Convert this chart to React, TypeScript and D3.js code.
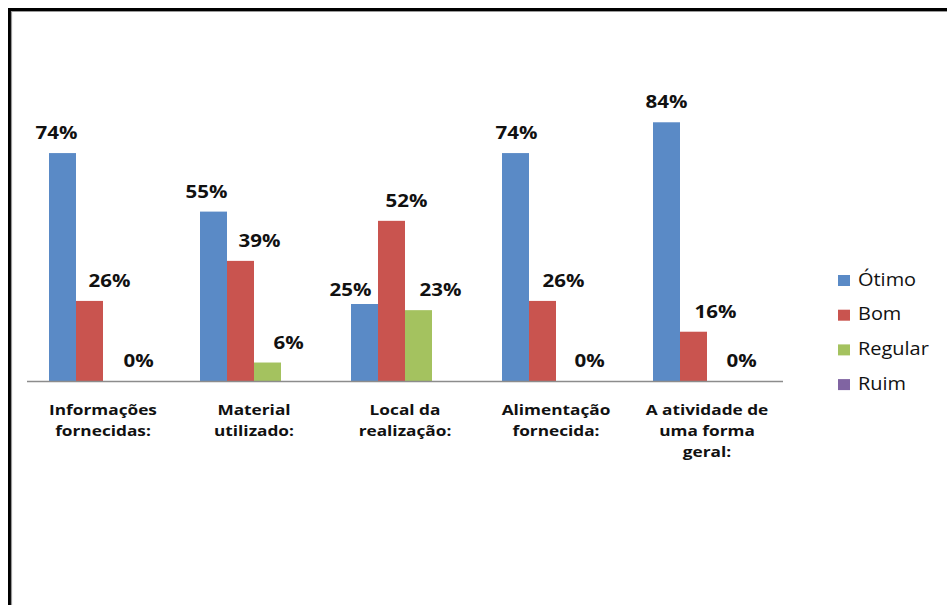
import React from "react";
import * as d3 from "d3";

const categories: string[][] = [
  ["Informações", "fornecidas:"],
  ["Material", "utilizado:"],
  ["Local da", "realização:"],
  ["Alimentação", "fornecida:"],
  ["A atividade de", "uma forma", "geral:"],
];
const series = ["Ótimo", "Bom", "Regular", "Ruim"];
const colors = ["#5A8AC6", "#C9544F", "#A4C25F", "#8064A2"];
const otimo = [74, 55, 25, 74, 84];
const bom = [26, 39, 52, 26, 16];
const regular = [0, 6, 23, 0, 0];
const ruim: (number | null)[] = [null, null, null, null, null];
const values = [otimo, bom, regular, ruim];
// manual label nudges [dx, dy] per series per category (as placed in the original)
const labelNudge: [number, number][][] = [
  [[-6, 0], [-7, 0], [-14, 6], [1, 0], [0, 0]],
  [[20, 0], [19, 0], [15, 0], [21, 0], [22, 0]],
  [[22, 0], [21, 0], [22, 0], [20, 0], [21, 0]],
  [[0, 0], [0, 0], [0, 0], [0, 0], [0, 0]],
];

const W = 947;
const H = 605;
const FONT = "'Open Sans', 'DejaVu Sans', sans-serif";

function SText({ x, y, children, size, weight, anchor = "middle", fill = "#111", sx = 1.12 }: any) {
  return (
    <g transform={`translate(${x},${y}) scale(${sx},1)`}>
      <text x={0} y={0} fontSize={size} fontWeight={weight} textAnchor={anchor} fill={fill} fontFamily={FONT}>
        {children}
      </text>
    </g>
  );
}

export default function App() {
  const x0 = d3.scaleBand<number>().domain(d3.range(categories.length)).range([27.5, 782.5]).padding(0);
  const x1 = d3.scaleBand<number>().domain(d3.range(series.length)).range([21.5, x0.bandwidth() - 21.5]).padding(0);
  const y = d3.scaleLinear().domain([0, 100]).range([381, 73]);

  return (
    <div style={{ position: "absolute", left: 0, top: 0, width: W, height: H, overflow: "hidden" }}>
      <svg width={W} height={H} style={{ display: "block", background: "#fff" }}>
        {/* frame */}
        <line x1={9.5} y1={8} x2={9.5} y2={H} stroke="#000" strokeWidth={3} />
        <line x1={8} y1={9.5} x2={W} y2={9.5} stroke="#000" strokeWidth={3} />
        <line x1={11.5} y1={11} x2={11.5} y2={H} stroke="#9a9a9a" strokeWidth={1.2} />
        <line x1={11} y1={11.5} x2={W} y2={11.5} stroke="#9a9a9a" strokeWidth={1.2} />

        {/* bars */}
        {values.map((vals, s) =>
          vals.map((v, c) =>
            v == null ? null : (
              <rect
                key={`b${s}-${c}`}
                x={x0(c)! + x1(s)!}
                y={y(v)}
                width={x1.bandwidth()}
                height={y(0) - y(v)}
                fill={colors[s]}
              />
            )
          )
        )}

        {/* axis */}
        <line x1={27} x2={783} y1={381.5} y2={381.5} stroke="#8c8c8c" strokeWidth={1.5} />

        {/* value labels */}
        {values.map((vals, s) =>
          vals.map((v, c) =>
            v == null ? null : (
              <SText
                key={`l${s}-${c}`}
                x={x0(c)! + x1(s)! + x1.bandwidth() / 2 + labelNudge[s][c][0]}
                y={y(v) - 14 + labelNudge[s][c][1]}
                size={18}
                weight="bold"
                sx={1.14}
              >
                {`${v}%`}
              </SText>
            )
          )
        )}

        {/* category labels */}
        {categories.map((lines, c) =>
          lines.map((ln, i) => (
            <SText key={`c${c}-${i}`} x={x0(c)! + x0.bandwidth() / 2} y={415 + i * 21} size={15} weight="bold" sx={1.15}>
              {ln}
            </SText>
          ))
        )}

        {/* legend */}
        {series.map((s, i) => (
          <g key={`lg${i}`}>
            <rect x={838} y={275 + i * 34.7} width={12} height={11} fill={colors[i]} />
            <SText x={858} y={285.5 + i * 34.7} size={17.5} weight="normal" anchor="start" sx={1.14}>
              {s}
            </SText>
          </g>
        ))}
      </svg>
    </div>
  );
}
